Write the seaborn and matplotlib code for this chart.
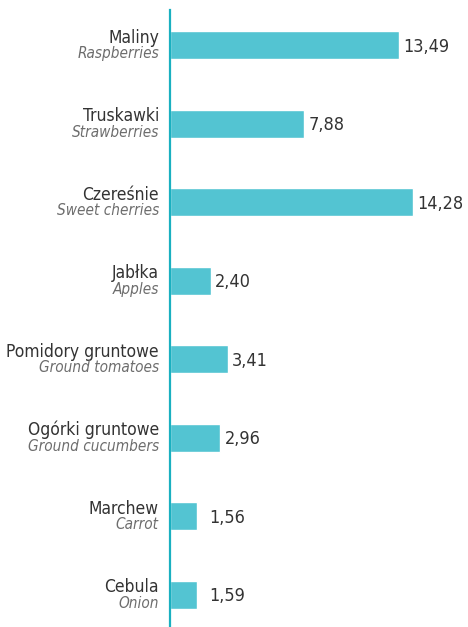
import numpy as np
import pandas as pd
import seaborn as sns
import matplotlib.pyplot as plt

# dane
nazwy_pl = ['Maliny', 'Truskawki', 'Czereśnie', 'Jabłka',
            'Pomidory gruntowe', 'Ogórki gruntowe', 'Marchew', 'Cebula']
nazwy_en = ['Raspberries', 'Strawberries', 'Sweet cherries', 'Apples',
            'Ground tomatoes', 'Ground cucumbers', 'Carrot', 'Onion']
wartosci = [13.49, 7.88, 14.28, 2.40, 3.41, 2.96, 1.56, 1.59]

df = pd.DataFrame({'pl': nazwy_pl, 'en': nazwy_en, 'wartosc': wartosci})

sns.set_style('white')
plt.rcParams['font.family'] = ['DejaVu Sans']

fig = plt.figure(figsize=(4.68, 6.27), dpi=100)
ax = fig.add_axes([170 / 468, 0, 290 / 468, 617 / 627])

sns.barplot(data=df, y='pl', x='wartosc', orient='h', color='#53c4d2',
            saturation=1, width=0.36, ax=ax)

ax.set_xlim(0, 290 / 17)
ax.set_ylim(7.41, -0.45)
ax.set_xticks([])
ax.set_yticks([])
ax.set_xlabel('')
ax.set_ylabel('')
for s in ['top', 'right', 'bottom']:
    ax.spines[s].set_visible(False)
ax.spines['left'].set_color('#1ab0c0')
ax.spines['left'].set_linewidth(1.6)

# etykiety kategorii (PL + EN) i wartości
for i, row in df.iterrows():
    ax.annotate(row['pl'], xy=(0, i), xycoords=('axes fraction', 'data'),
                xytext=(-8, 5.5), textcoords='offset points', stretch='condensed',
                ha='right', va='center', fontsize=12.5, color='#333333')
    ax.annotate(row['en'], xy=(0, i), xycoords=('axes fraction', 'data'),
                xytext=(-8, -6), textcoords='offset points', stretch='condensed',
                ha='right', va='center', fontsize=11, color='#6d6d6d',
                style='italic')
    pad = 9 if row['wartosc'] < 2 else 3
    ax.annotate(f"{row['wartosc']:.2f}".replace('.', ','), xy=(row['wartosc'], i),
                xytext=(pad, -1), textcoords='offset points', stretch='condensed',
                ha='left', va='center', fontsize=13, color='#333333')

fig.savefig('out.png', dpi=100)
